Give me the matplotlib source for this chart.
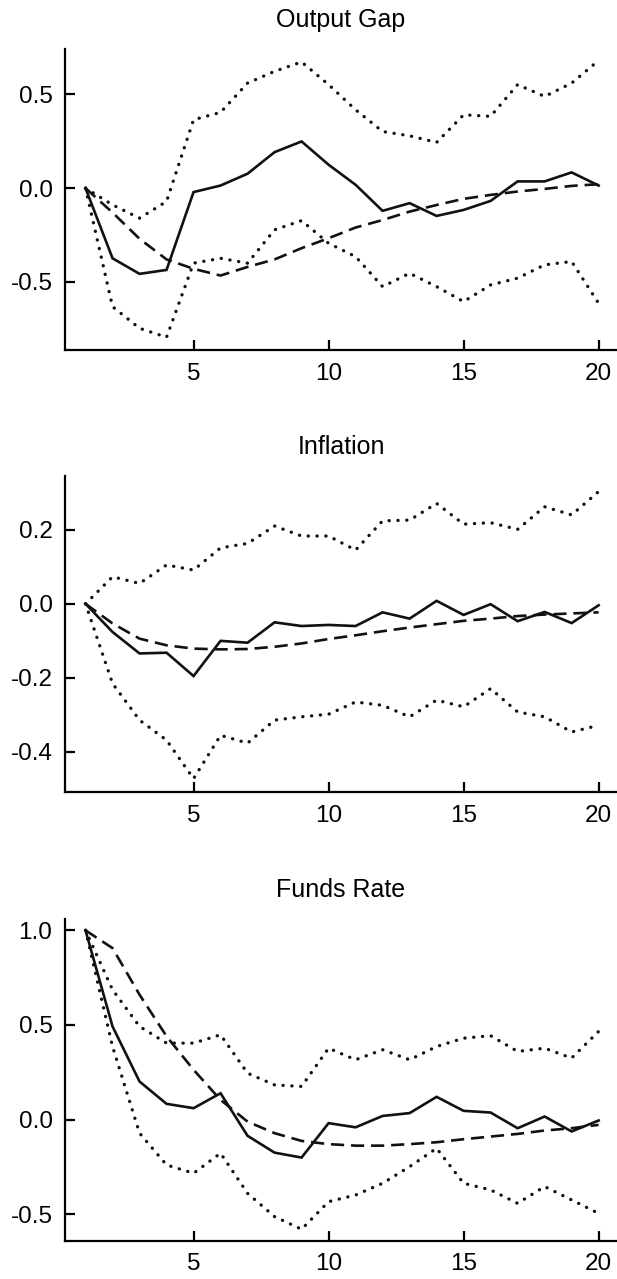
import matplotlib
matplotlib.use("Agg")
import matplotlib.pyplot as plt

plt.rcParams['font.family'] = ['Liberation Sans', 'DejaVu Sans']
plt.rcParams['axes.unicode_minus'] = False

horizon = list(range(1, 21))

titles = ["Output Gap", "Inflation", "Funds Rate"]

# Output gap
gap_solid = [0.0, -0.374, -0.457, -0.436, -0.021, 0.014, 0.077, 0.192, 0.249, 0.125,
             0.018, -0.121, -0.080, -0.148, -0.116, -0.068, 0.036, 0.036, 0.084, 0.014]
gap_dashed = [0.0, -0.13, -0.27, -0.38, -0.43, -0.466, -0.42, -0.38, -0.32, -0.267,
              -0.21, -0.17, -0.125, -0.09, -0.057, -0.036, -0.018, -0.004, 0.012, 0.021]
gap_upper = [0.0, -0.089, -0.16, -0.071, 0.365, 0.404, 0.56, 0.623, 0.673, 0.552,
             0.418, 0.302, 0.279, 0.244, 0.391, 0.383, 0.552, 0.489, 0.56, 0.681]
gap_lower = [0.0, -0.632, -0.747, -0.795, -0.40, -0.374, -0.40, -0.222, -0.173, -0.294,
             -0.365, -0.525, -0.454, -0.525, -0.605, -0.516, -0.48, -0.409, -0.391, -0.614]

# Inflation
inf_solid = [0.0, -0.076, -0.134, -0.132, -0.195, -0.10, -0.105, -0.050, -0.060, -0.057,
             -0.060, -0.023, -0.040, 0.008, -0.030, -0.001, -0.047, -0.022, -0.052, -0.004]
inf_dashed = [0.0, -0.053, -0.094, -0.112, -0.121, -0.123, -0.122, -0.116, -0.107, -0.095,
              -0.085, -0.074, -0.064, -0.055, -0.046, -0.040, -0.033, -0.029, -0.026, -0.023]
inf_upper = [0.0, 0.073, 0.055, 0.105, 0.091, 0.151, 0.163, 0.21, 0.183, 0.183,
             0.145, 0.224, 0.226, 0.271, 0.215, 0.219, 0.201, 0.262, 0.24, 0.303]
inf_lower = [0.0, -0.215, -0.314, -0.368, -0.472, -0.355, -0.376, -0.314, -0.305, -0.298,
             -0.265, -0.274, -0.305, -0.26, -0.278, -0.229, -0.292, -0.305, -0.346, -0.328]

# Funds rate
ff_solid = [1.0, 0.492, 0.201, 0.083, 0.06, 0.139, -0.086, -0.175, -0.201, -0.019,
            -0.041, 0.019, 0.034, 0.12, 0.046, 0.037, -0.046, 0.016, -0.063, -0.005]
ff_dashed = [1.0, 0.906, 0.66, 0.44, 0.263, 0.104, -0.011, -0.072, -0.113, -0.13,
             -0.138, -0.138, -0.13, -0.12, -0.104, -0.09, -0.076, -0.058, -0.046, -0.028]
ff_upper = [1.0, 0.686, 0.492, 0.404, 0.404, 0.448, 0.245, 0.183, 0.175, 0.377,
            0.316, 0.369, 0.316, 0.386, 0.43, 0.443, 0.36, 0.377, 0.325, 0.466]
ff_lower = [1.0, 0.386, -0.072, -0.24, -0.284, -0.178, -0.39, -0.513, -0.58, -0.434,
            -0.399, -0.337, -0.249, -0.152, -0.337, -0.372, -0.443, -0.354, -0.425, -0.496]

xticks = [5, 10, 15, 20]
yticks_list = [[-0.5, 0.0, 0.5], [-0.4, -0.2, 0.0, 0.2], [-0.5, 0.0, 0.5, 1.0]]
ytick_labels = [["-0.5", "0.0", "0.5"], ["-0.4", "-0.2", "0.0", "0.2"],
                ["-0.5", "0.0", "0.5", "1.0"]]

panels = [
    (gap_solid, gap_dashed, gap_upper, gap_lower),
    (inf_solid, inf_dashed, inf_upper, inf_lower),
    (ff_solid, ff_dashed, ff_upper, ff_lower),
]

W, H = 617, 1279
fig = plt.figure(figsize=(W / 100, H / 100), dpi=100)

left_px, right_px = 65, 617
frames = [(49, 350), (476, 792), (919, 1241)]
ylims = [(-0.863, 0.742), (-0.508, 0.345), (-0.642, 1.06)]

for i, (solid, dashed, upper, lower) in enumerate(panels):
    top, bot = frames[i]
    ax = fig.add_axes([left_px / W, 1 - bot / H, (right_px - left_px) / W, (bot - top) / H])
    ax.plot(horizon, solid, color='#111111', lw=1.9, solid_joinstyle='miter')
    ax.plot(horizon, dashed, color='#111111', lw=1.9, linestyle=(0, (5.0, 2.6)))
    for band in (upper, lower):
        ax.plot(horizon, band, color='#111111', lw=2.4, linestyle=(0, (0.05, 2.6)),
                dash_capstyle='round')
    ax.set_xlim(0.24, 20.68)
    ax.set_ylim(*ylims[i])
    ax.set_xticks(xticks)
    ax.set_xticklabels([str(t) for t in xticks])
    ax.set_yticks(yticks_list[i])
    ax.set_yticklabels(ytick_labels[i])
    for side in ('top', 'right'):
        ax.spines[side].set_visible(False)
    for side in ('left', 'bottom'):
        ax.spines[side].set_linewidth(1.6)
    ax.tick_params(direction='in', length=7, width=1.6, labelsize=17.5, pad=9)
    ax.set_title(titles[i], fontsize=18, pad=16)

fig.savefig("out.png", dpi=100)
